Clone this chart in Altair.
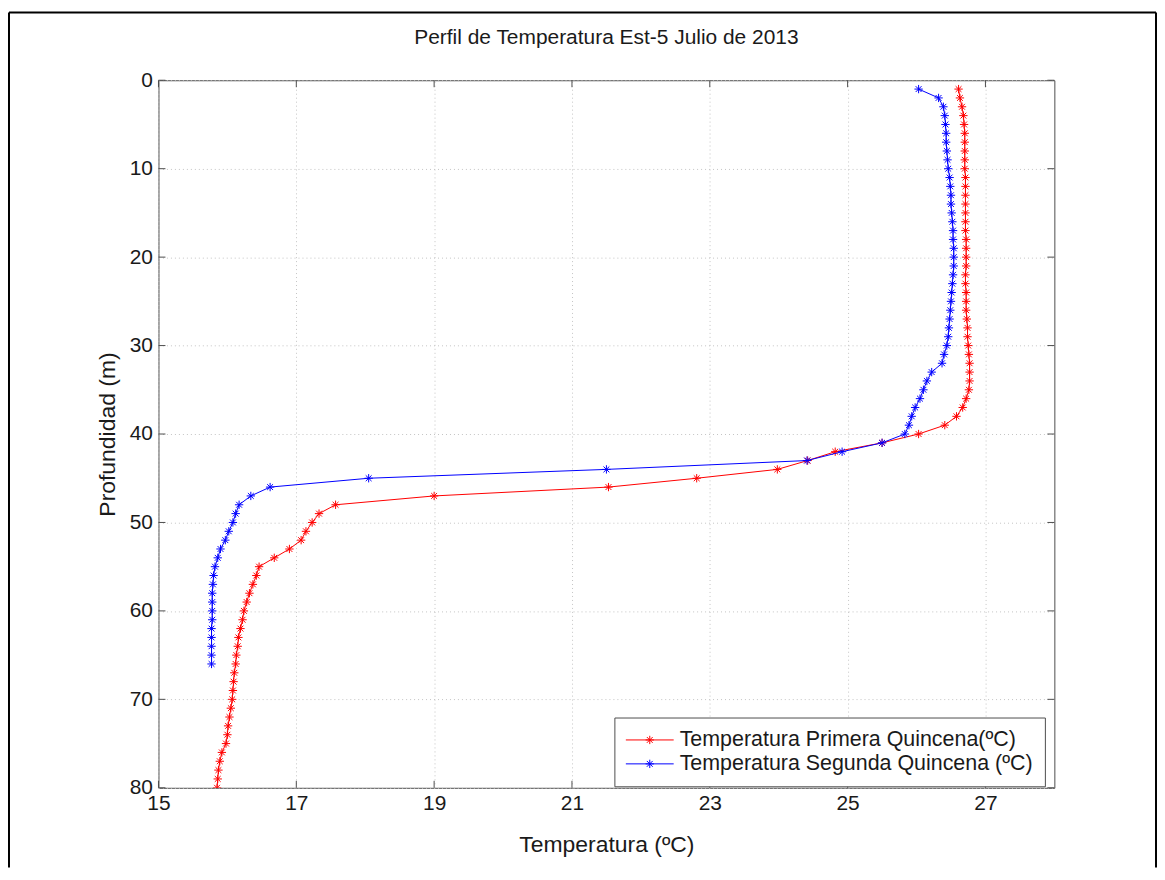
import altair as alt
import pandas as pd

# ---------------- data ----------------
title_text = "Perfil de Temperatura Est-5 Julio de 2013"
x_title = "Temperatura (ºC)"
y_title = "Profundidad (m)"
series_names = ["Temperatura Primera Quincena(ºC)", "Temperatura Segunda Quincena (ºC)"]
series_colors = ["#ff0000", "#0000ff"]

depth_primera = list(range(1, 81))
temp_primera = [
    26.61, 26.63, 26.66, 26.68, 26.69, 26.70, 26.70, 26.70, 26.70, 26.70,
    26.71, 26.71, 26.71, 26.71, 26.71, 26.71, 26.71, 26.72, 26.72, 26.72,
    26.72, 26.71, 26.71, 26.72, 26.72, 26.72, 26.73, 26.74, 26.74, 26.75,
    26.76, 26.77, 26.77, 26.77, 26.76, 26.72, 26.67, 26.58, 26.41, 26.03,
    25.50, 24.82, 24.42, 23.98, 22.81, 21.53, 19.00, 17.57, 17.33, 17.23,
    17.14, 17.07, 16.90, 16.68, 16.46, 16.42, 16.37, 16.32, 16.28, 16.24,
    16.22, 16.19, 16.16, 16.15, 16.13, 16.12, 16.10, 16.09, 16.08, 16.07,
    16.05, 16.03, 16.01, 16.00, 15.98, 15.92, 15.89, 15.87, 15.86, 15.85,
]

depth_segunda = list(range(1, 67))
temp_segunda = [
    26.03, 26.32, 26.39, 26.41, 26.42, 26.43, 26.43, 26.44, 26.45, 26.46,
    26.48, 26.49, 26.50, 26.50, 26.51, 26.52, 26.53, 26.53, 26.54, 26.54,
    26.54, 26.53, 26.52, 26.51, 26.50, 26.49, 26.48, 26.47, 26.46, 26.44,
    26.40, 26.37, 26.22, 26.15, 26.10, 26.05, 25.98, 25.93, 25.89, 25.83,
    25.50, 24.92, 24.41, 21.50, 18.05, 16.62, 16.34, 16.17, 16.12, 16.08,
    16.02, 15.97, 15.90, 15.86, 15.82, 15.80, 15.79, 15.78, 15.78, 15.78,
    15.78, 15.77, 15.77, 15.77, 15.77, 15.77,
]

x_ticks = [15, 17, 19, 21, 23, 25, 27]
y_ticks = [0, 10, 20, 30, 40, 50, 60, 70, 80]

# ---------------- layout ----------------
W, H = 899, 710
FONT = "Liberation Sans"
STAR = "M-1,0L1,0M0,-1L0,1M-0.7,-0.7L0.7,0.7M-0.7,0.7L0.7,-0.7"
BOX = "#4d4d4d"
TXT = "#1a1a1a"

df = pd.concat([
    pd.DataFrame({"temp": temp_primera, "depth": depth_primera, "serie": series_names[0]}),
    pd.DataFrame({"temp": temp_segunda, "depth": depth_segunda, "serie": series_names[1]}),
], ignore_index=True)

x_scale = alt.Scale(domain=[15, 28], nice=False, zero=False)
y_scale = alt.Scale(domain=[0, 80], reverse=True, nice=False, zero=False)

x_axis = alt.Axis(values=x_ticks, title=x_title, grid=True, labelPadding=5,
                  titlePadding=20, labelFlush=False)
y_axis = alt.Axis(values=y_ticks, title=y_title, grid=True, labelPadding=6,
                  titlePadding=10, labelFlush=False)


def X(field):
    return alt.X(field, scale=x_scale, axis=x_axis)


def Y(field):
    return alt.Y(field, scale=y_scale, axis=y_axis)


layers = []
for name, col in zip(series_names, series_colors):
    src = alt.Chart(df).transform_filter(alt.datum.serie == name)
    line = src.mark_line(strokeWidth=1, color=col, clip=True).encode(
        x=X("temp:Q"), y=Y("depth:Q"), order=alt.Order("depth:Q"),
    )
    pts = src.mark_point(shape=STAR, size=70, filled=False, stroke=col,
                         strokeWidth=1, opacity=1, clip=True).encode(
        x=X("temp:Q"), y=Y("depth:Q"),
    )
    layers += [line, pts]

# inward tick marks (MATLAB style)
xt = alt.Chart(pd.DataFrame({"temp": x_ticks}))
yt = alt.Chart(pd.DataFrame({"depth": y_ticks}))
xtick_b = xt.mark_rule(color=BOX, strokeWidth=1).encode(
    x=X("temp:Q"), y=alt.value(H), y2=alt.value(H - 7))
xtick_t = xt.mark_rule(color=BOX, strokeWidth=1).encode(
    x=X("temp:Q"), y=alt.value(0), y2=alt.value(7))
ytick_l = yt.mark_rule(color=BOX, strokeWidth=1).encode(
    y=Y("depth:Q"), x=alt.value(0), x2=alt.value(7))
ytick_r = yt.mark_rule(color=BOX, strokeWidth=1).encode(
    y=Y("depth:Q"), x=alt.value(W), x2=alt.value(W - 7))

# legend (drawn manually to get line + asterisk samples)
one = alt.Chart(pd.DataFrame({"a": [0]}))
leg_box = one.mark_rect(fill="white", stroke=BOX, strokeWidth=1).encode(
    x=alt.value(458), x2=alt.value(890), y=alt.value(640), y2=alt.value(709))
leg_layers = [leg_box]
row_y = [662, 686]
for name, col, ry in zip(series_names, series_colors, row_y):
    leg_layers.append(one.mark_rule(color=col, strokeWidth=1).encode(
        x=alt.value(469), x2=alt.value(517), y=alt.value(ry)))
    leg_layers.append(one.mark_point(shape=STAR, size=70, filled=False, stroke=col,
                                     strokeWidth=1, opacity=1).encode(
        x=alt.value(493), y=alt.value(ry)))
    leg_layers.append(one.mark_text(align="left", baseline="middle", font=FONT,
                                    fontSize=21.5, color=TXT).encode(
        x=alt.value(523), y=alt.value(ry), text=alt.value(name)))

# chart title as text
title = one.mark_text(align="center", baseline="alphabetic", font=FONT,
                      fontSize=21, color=TXT).encode(
    x=alt.value(W / 2), y=alt.value(-36), text=alt.value(title_text))

# outer figure frame
frame = [
    one.mark_rule(color="black", strokeWidth=2).encode(
        x=alt.value(-150), y=alt.value(-68), y2=alt.value(H + 80)),
    one.mark_rule(color="black", strokeWidth=2).encode(
        x=alt.value(-150), x2=alt.value(1001), y=alt.value(-68)),
    one.mark_rule(color="black", strokeWidth=2).encode(
        x=alt.value(1001), y=alt.value(-68), y2=alt.value(H + 80)),
]

chart = alt.layer(
    *layers, xtick_b, xtick_t, ytick_l, ytick_r, *leg_layers, title, *frame
).properties(
    width=W, height=H,
    background="white",
    autosize=alt.AutoSizeParams(type="none"),
    padding={"left": 151, "top": 71, "right": 103, "bottom": 80},
).configure_view(
    stroke=BOX, strokeWidth=1
).configure_axis(
    labelFont=FONT, labelFontSize=21, labelColor=TXT,
    titleFont=FONT, titleFontSize=23, titleFontWeight="normal", titleColor=TXT,
    gridColor="#c4c4c4", gridDash=[1, 3], gridWidth=1,
    domain=False, ticks=False,
)

chart.save("out.html", embed_options={"renderer": "svg", "actions": False})
